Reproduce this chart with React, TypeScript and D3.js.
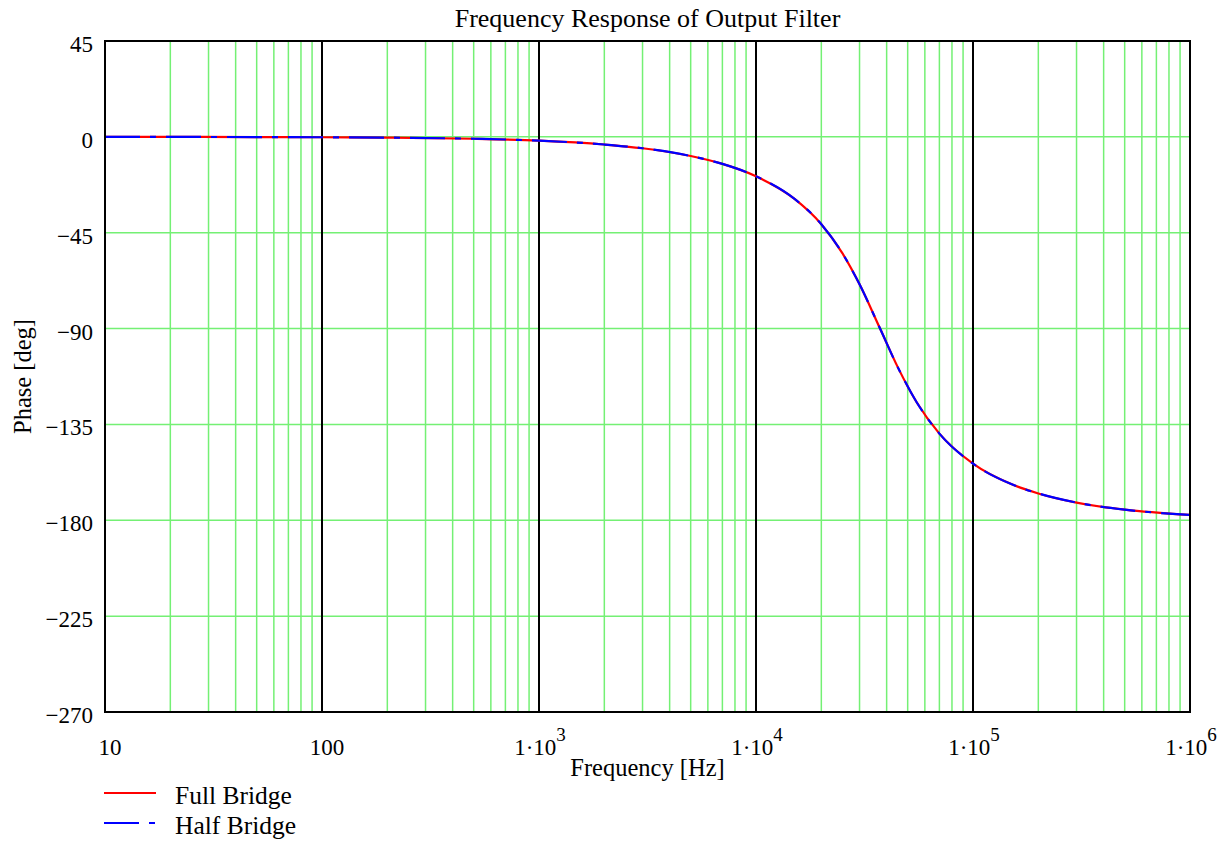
import React from "react";
import * as d3 from "d3";

const freqs = [10, 20, 50, 100, 200, 500, 1000, 2000, 3000, 5000, 7000, 10000, 15000, 20000, 25000, 30000, 37300, 45000, 55000, 70000, 100000, 150000, 200000, 300000, 500000, 1000000];
const fullBridge = [0, -0.04, -0.09, -0.18, -0.36, -0.89, -1.78, -3.6, -5.35, -9.0, -12.7, -18.5, -29.0, -41.0, -54.6, -69.2, -90, -108.1, -124.6, -139.3, -153.4, -163.0, -167.4, -171.7, -175.0, -177.5];
const halfBridge = [0, -0.04, -0.09, -0.18, -0.36, -0.89, -1.78, -3.6, -5.35, -9.0, -12.7, -18.5, -29.0, -41.0, -54.6, -69.2, -90, -108.1, -124.6, -139.3, -153.4, -163.0, -167.4, -171.7, -175.0, -177.5];
const yTicks = [45, 0, -45, -90, -135, -180, -225, -270];
const decades = [10, 100, 1000, 10000, 100000, 1000000];

const W = 1227, H = 844;
const L = 105, R = 1190, T = 41, B = 712;
const font = "'Liberation Serif', 'Times New Roman', serif";
const green = "#74f074";

export default function App() {
  const x = d3.scaleLog().domain([10, 1e6]).range([L, R]);
  const y = d3.scaleLinear().domain([-270, 45]).range([B, T]);
  const line = d3.line<number>().x((_, i) => x(freqs[i])).y((d) => y(d)).curve(d3.curveMonotoneX);

  const minor: number[] = [];
  for (let dcd = 0; dcd < 5; dcd++) {
    for (let k = 2; k <= 9; k++) minor.push(k * decades[dcd]);
  }

  const fmt = (v: number) => (v < 0 ? "\u2212" + Math.abs(v) : String(v));

  return (
    <svg width={W} height={H} style={{ position: "absolute", left: 0, top: 0 }} fontFamily={font}>
      <rect x={0} y={0} width={W} height={H} fill="white" />
      {minor.map((f) => (
        <line key={"m" + f} x1={x(f)} x2={x(f)} y1={T} y2={B} stroke={green} strokeWidth={1.5} />
      ))}
      {yTicks.slice(1, -1).map((v) => (
        <line key={"h" + v} x1={L} x2={R} y1={y(v)} y2={y(v)} stroke={green} strokeWidth={1.5} />
      ))}
      {decades.slice(1, -1).map((f) => (
        <line key={"d" + f} x1={x(f)} x2={x(f)} y1={T} y2={B} stroke="black" strokeWidth={2} />
      ))}
      <path d={line(fullBridge) || ""} fill="none" stroke="#ff0000" strokeWidth={2.2} />
      <path d={line(halfBridge) || ""} fill="none" stroke="#0000ff" strokeWidth={2.2} strokeDasharray="35 10 6 10" />
      <rect x={L} y={T} width={R - L} height={B - T} fill="none" stroke="black" strokeWidth={2} />
      {yTicks.map((v) => (
        <text key={"yt" + v} x={L - 12} y={y(v) + 11} textAnchor="end" fontSize={23}>{fmt(v)}</text>
      ))}
      {decades.map((f, i) => {
        if (i < 2) {
          return <text key={"xt" + f} x={x(f) + 5} y={755} textAnchor="middle" fontSize={23}>{String(f)}</text>;
        }
        return (
          <text key={"xt" + f} x={x(f) + 1} y={755} textAnchor="middle" fontSize={23}>
            1{"\u00b7"}10<tspan dy={-14} fontSize={19}>{String(Math.round(Math.log10(f)))}</tspan>
          </text>
        );
      })}
      <text x={(L + R) / 2} y={27} textAnchor="middle" fontSize={26}>Frequency Response of Output Filter</text>
      <text x={(L + R) / 2} y={776} textAnchor="middle" fontSize={24.5}>Frequency [Hz]</text>
      <text transform={`translate(31, ${(T + B) / 2}) rotate(-90)`} textAnchor="middle" fontSize={24.5}>Phase [deg]</text>
      <line x1={104} x2={156} y1={793} y2={793} stroke="#ff0000" strokeWidth={2} />
      <text x={175} y={804} fontSize={25.5}>Full Bridge</text>
      <line x1={104} x2={156} y1={823} y2={823} stroke="#0000ff" strokeWidth={2} strokeDasharray="35 10 6 10" />
      <text x={175} y={834} fontSize={25.5}>Half Bridge</text>
    </svg>
  );
}
